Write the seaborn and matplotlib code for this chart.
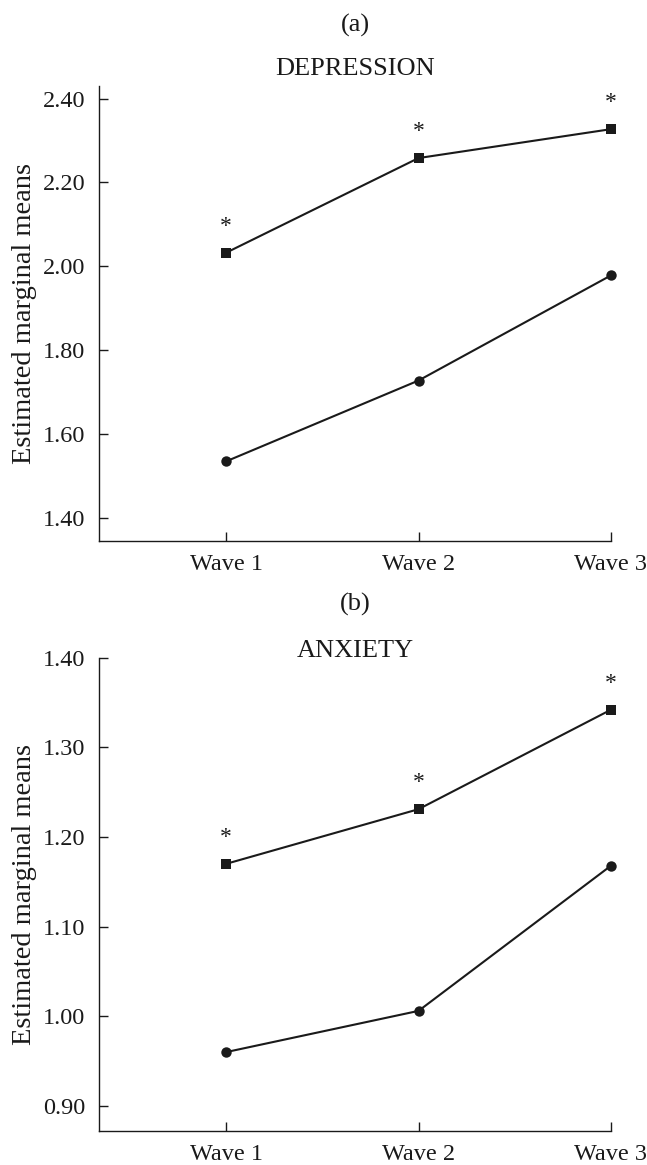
import numpy as np
import pandas as pd
import matplotlib
matplotlib.use("Agg")
import matplotlib.pyplot as plt
import seaborn as sns

# data
waves = ["Wave 1", "Wave 2", "Wave 3"]
groups = ["square", "circle"]

dep_square = [2.032, 2.258, 2.327]
dep_circle = [1.534, 1.727, 1.978]
anx_square = [1.170, 1.231, 1.342]
anx_circle = [0.960, 1.006, 1.168]

dep_ticks = [1.40, 1.60, 1.80, 2.00, 2.20, 2.40]
anx_ticks = [0.90, 1.00, 1.10, 1.20, 1.30, 1.40]

sns.set_style("ticks")
plt.rcParams["font.family"] = ["Liberation Serif", "DejaVu Serif"]
ink = "#1a1a1a"
plt.rcParams["text.color"] = ink
plt.rcParams["axes.labelcolor"] = ink
plt.rcParams["xtick.color"] = ink
plt.rcParams["ytick.color"] = ink
plt.rcParams["axes.edgecolor"] = ink


def make_df(sq, ci):
    rows = []
    for i, w in enumerate(waves):
        rows.append({"pos": i, "wave": w, "group": "square", "value": sq[i]})
        rows.append({"pos": i, "wave": w, "group": "circle", "value": ci[i]})
    return pd.DataFrame(rows)


W, H = 647, 1165
fig = plt.figure(figsize=(W / 100, H / 100), dpi=100)


def panel(rect, df, sq, ticks, ylim, fmt):
    ax = fig.add_axes(rect)
    sns.lineplot(data=df, x="pos", y="value", hue="group", style="group",
                 markers={"square": "s", "circle": "o"}, dashes=False,
                 palette={"square": ink, "circle": ink}, linewidth=1.5,
                 markersize=7.5, markeredgewidth=0, legend=False, ax=ax)
    for ln in ax.lines:
        ln.set_clip_on(False)
    for i, v in enumerate(sq):
        ax.annotate("*", (i, v), xytext=(0, 19), textcoords="offset points",
                    ha="center", va="center", fontsize=17, color=ink)
    ax.set_xlim(-0.66, 2.0)
    ax.set_ylim(*ylim)
    ax.set_xticks(range(len(waves)))
    ax.set_xticklabels(waves)
    ax.set_yticks(ticks)
    ax.set_yticklabels([fmt.format(t) for t in ticks])
    ax.set_xlabel("")
    ax.set_ylabel("Estimated marginal means", fontsize=20.5, labelpad=4)
    ax.tick_params(direction="in", length=6.5, width=1.0, labelsize=17.5)
    ax.tick_params(axis="y", pad=10)
    ax.tick_params(axis="x", pad=9)
    for s in ["top", "right"]:
        ax.spines[s].set_visible(False)
    for s in ["left", "bottom"]:
        ax.spines[s].set_linewidth(1.0)
    return ax


left = 99 / W
width = (611 - 99) / W

# top panel: y from 86 px to 541 px
top_rect = [left, 1 - 541 / H, width, (541 - 86) / H]
panel(top_rect, make_df(dep_square, dep_circle), dep_square, dep_ticks,
      (1.344, 2.43), "{:.2f}")

# bottom panel: y from 657.7 px to 1131 px
bot_rect = [left, 1 - 1131 / H, width, (1131 - 657.7) / H]
panel(bot_rect, make_df(anx_square, anx_circle), anx_square, anx_ticks,
      (0.872, 1.40), "{:.2f}")

cx = 355 / W
fig.text(cx, 1 - 25 / H, "(a)", ha="center", va="center", fontsize=19)
fig.text(cx, 1 - 69 / H, "DEPRESSION", ha="center", va="center", fontsize=19)
fig.text(cx, 1 - 604 / H, "(b)", ha="center", va="center", fontsize=19)
fig.text(cx, 1 - 651 / H, "ANXIETY", ha="center", va="center", fontsize=19)

fig.savefig("out.png", dpi=100)
